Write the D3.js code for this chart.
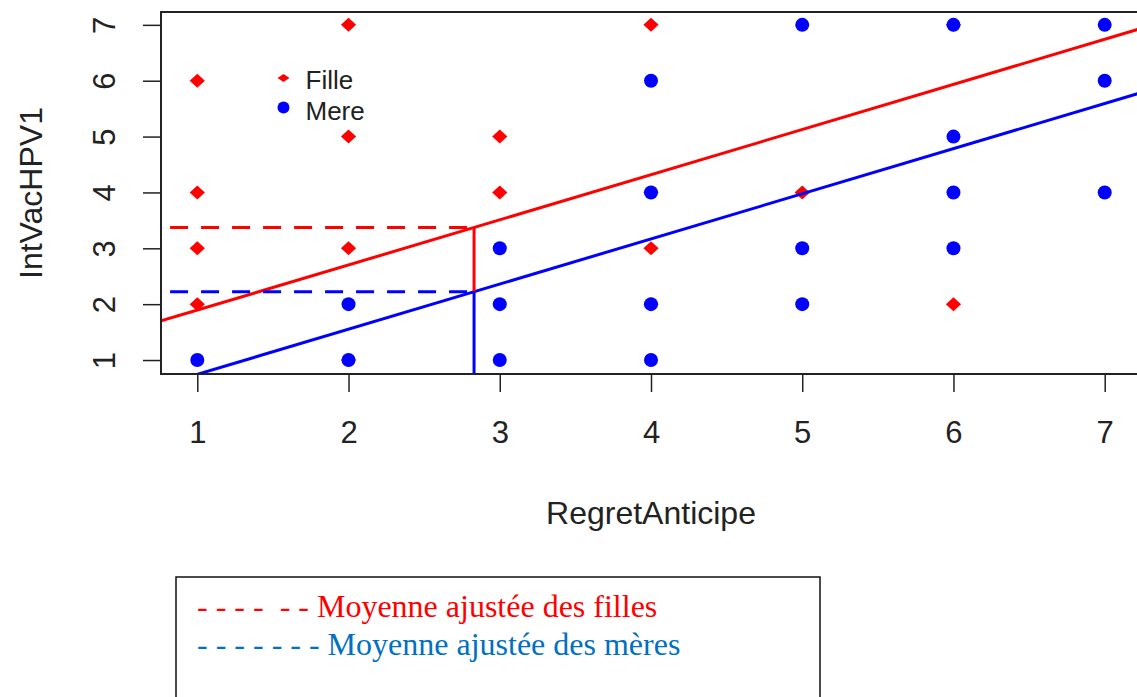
<!DOCTYPE html>
<html>
<head>
<meta charset="utf-8">
<script src="https://cdn.jsdelivr.net/npm/d3@7"></script>
<style>
  html, body { margin: 0; padding: 0; background: #fff; }
  svg { display: block; }
</style>
</head>
<body>
<svg id="chart" width="1137" height="697"></svg>
<script>
// ---- data ----
const xTicks = [1, 2, 3, 4, 5, 6, 7];
const yTicks = [1, 2, 3, 4, 5, 6, 7];
const filleX = [1, 1, 1, 1, 2, 2, 2, 2, 3, 3, 4, 4, 4, 4, 5, 6, 6];
const filleY = [6, 4, 3, 2, 7, 5, 3, 1, 5, 4, 7, 4, 3, 2, 4, 7, 2];
const mereX = [1, 2, 2, 3, 3, 3, 4, 4, 4, 4, 5, 5, 5, 6, 6, 6, 6, 7, 7, 7];
const mereY = [1, 2, 1, 3, 2, 1, 6, 4, 2, 1, 7, 3, 2, 7, 5, 4, 3, 7, 6, 4];
const slope = 0.808;
const filleIntercept = 1.086;
const mereIntercept = -0.064;
const meanX = 2.83;          // covariate mean used for adjusted means
const dashStartX = 0.82;
const xLabel = "RegretAnticipe";
const yLabel = "IntVacHPV1";
const legendLabels = ["Fille", "Mere"];
const noteLabels = ["Moyenne ajustée des filles", "Moyenne ajustée des mères"];
const noteDashes = ["- - - -  - - ", "- - - - - - - "];

const RED = "#ff0000", BLUE = "#0000ff", NOTE_BLUE = "#0070c0";

const svg = d3.select("#chart");
const plot = { left: 161, top: 12, right: 1141, bottom: 374 };

const x = d3.scaleLinear().domain([0.76, 7.24]).range([plot.left, plot.right]);
const y = d3.scaleLinear().domain([0.75, 7.23]).range([plot.bottom, plot.top]);

// clip
svg.append("defs").append("clipPath").attr("id", "clip")
  .append("rect").attr("x", plot.left).attr("y", plot.top)
  .attr("width", plot.right - plot.left).attr("height", plot.bottom - plot.top);

const font = "'Liberation Sans', Arial, sans-serif";

// axes
const xAxis = d3.axisBottom(x).tickValues(xTicks).tickSize(18).tickPadding(0).tickFormat(d3.format("d"));
const gx = svg.append("g").attr("transform", `translate(0,${plot.bottom})`).call(xAxis);
gx.select(".domain").remove();
gx.selectAll(".tick line").attr("stroke", "#222").attr("stroke-width", 1.5);
gx.selectAll(".tick text").attr("font-family", font).attr("font-size", 31).attr("fill", "#222")
  .attr("y", 69).attr("dy", 0);

const yAxis = d3.axisLeft(y).tickValues(yTicks).tickSize(18).tickFormat(d3.format("d"));
const gy = svg.append("g").attr("transform", `translate(${plot.left},0)`).call(yAxis);
gy.select(".domain").remove();
gy.selectAll(".tick line").attr("stroke", "#222").attr("stroke-width", 1.5);
gy.selectAll(".tick text").attr("font-family", font).attr("font-size", 31).attr("fill", "#222")
  .attr("x", null).attr("dy", null)
  .attr("transform", "translate(-46,0) rotate(-90)")
  .attr("text-anchor", "middle");

// axis titles
svg.append("text").attr("x", (plot.left + plot.right) / 2).attr("y", 524)
  .attr("text-anchor", "middle").attr("font-family", font).attr("font-size", 32).attr("fill", "#222")
  .text(xLabel);
svg.append("text").attr("transform", `translate(42,${(plot.top + plot.bottom) / 2}) rotate(-90)`)
  .attr("text-anchor", "middle").attr("font-family", font).attr("font-size", 32).attr("fill", "#222")
  .text(yLabel);

// points
const diamond = (cx, cy, w, h) => `M${cx - w},${cy} L${cx},${cy - h} L${cx + w},${cy} L${cx},${cy + h} Z`;
const pts = svg.append("g").attr("clip-path", "url(#clip)");
pts.selectAll("path.fille").data(filleX.map((d, i) => [d, filleY[i]])).enter()
  .append("path").attr("class", "fille")
  .attr("d", d => diamond(x(d[0]), y(d[1]), 7.6, 7)).attr("fill", RED);
pts.selectAll("circle.mere").data(mereX.map((d, i) => [d, mereY[i]])).enter()
  .append("circle").attr("class", "mere")
  .attr("cx", d => x(d[0])).attr("cy", d => y(d[1])).attr("r", 7).attr("fill", BLUE);

// regression lines
const lines = svg.append("g").attr("clip-path", "url(#clip)");
const xd = x.domain();
[[filleIntercept, RED], [mereIntercept, BLUE]].forEach(([b, c]) => {
  lines.append("line")
    .attr("x1", x(xd[0])).attr("y1", y(b + slope * xd[0]))
    .attr("x2", x(xd[1])).attr("y2", y(b + slope * xd[1]))
    .attr("stroke", c).attr("stroke-width", 3);
});

// adjusted means
const fAdj = filleIntercept + slope * meanX;
const mAdj = mereIntercept + slope * meanX;
lines.append("line").attr("x1", x(dashStartX)).attr("x2", x(meanX))
  .attr("y1", y(fAdj)).attr("y2", y(fAdj))
  .attr("stroke", RED).attr("stroke-width", 3).attr("stroke-dasharray", "18,13");
lines.append("line").attr("x1", x(dashStartX)).attr("x2", x(meanX))
  .attr("y1", y(mAdj)).attr("y2", y(mAdj))
  .attr("stroke", BLUE).attr("stroke-width", 3).attr("stroke-dasharray", "18,13");
lines.append("line").attr("x1", x(meanX)).attr("x2", x(meanX))
  .attr("y1", y(fAdj)).attr("y2", y(mAdj))
  .attr("stroke", RED).attr("stroke-width", 3);
lines.append("line").attr("x1", x(meanX)).attr("x2", x(meanX))
  .attr("y1", y(mAdj)).attr("y2", plot.bottom)
  .attr("stroke", BLUE).attr("stroke-width", 3);

// frame
svg.append("rect").attr("x", plot.left).attr("y", plot.top)
  .attr("width", plot.right - plot.left).attr("height", plot.bottom - plot.top)
  .attr("fill", "none").attr("stroke", "#222").attr("stroke-width", 2);

// inner legend
const lg = svg.append("g");
const lgX = x(1.57);
lg.append("path").attr("d", diamond(lgX, y(6.05), 6, 4)).attr("fill", RED);
lg.append("circle").attr("cx", lgX).attr("cy", y(5.52)).attr("r", 6).attr("fill", BLUE);
lg.append("text").attr("x", lgX + 22).attr("y", y(6.05) + 11)
  .attr("font-family", font).attr("font-size", 26).attr("fill", "#222").text(legendLabels[0]);
lg.append("text").attr("x", lgX + 22).attr("y", y(5.52) + 12)
  .attr("font-family", font).attr("font-size", 26).attr("fill", "#222").text(legendLabels[1]);

// note box
const note = svg.append("g");
note.append("rect").attr("x", 176).attr("y", 577).attr("width", 644).attr("height", 140)
  .attr("fill", "#fff").attr("stroke", "#111").attr("stroke-width", 1.5);
const serif = "'Liberation Serif', 'Times New Roman', serif";
[[RED, 617], [NOTE_BLUE, 655]].forEach(([c, by], i) => {
  note.append("text").attr("x", 197).attr("y", by)
    .attr("font-family", serif).attr("font-size", 32).attr("fill", c)
    .style("white-space", "pre")
    .text(noteDashes[i] + noteLabels[i]);
});
</script>
</body>
</html>
